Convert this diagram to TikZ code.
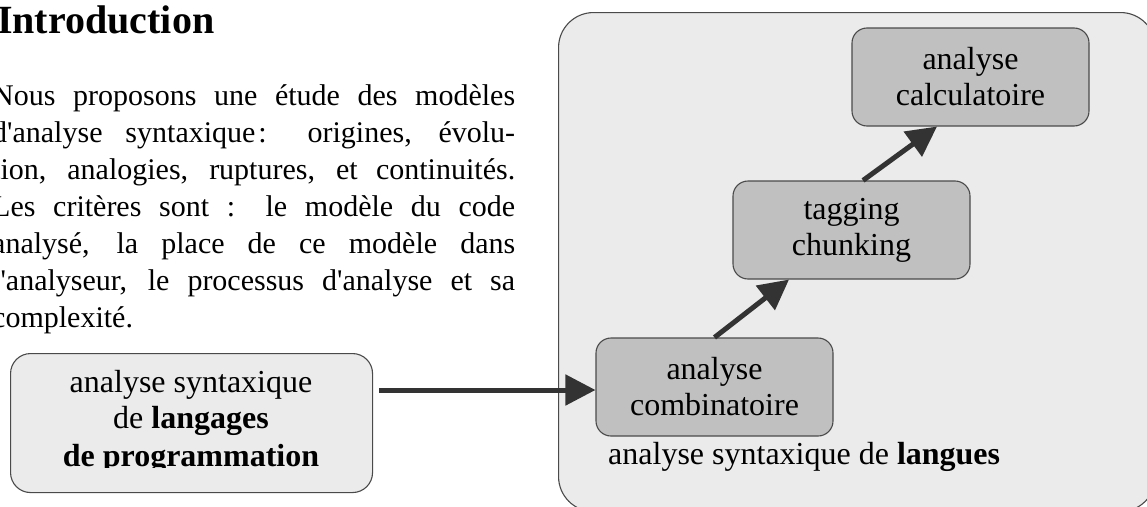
\documentclass[tikz,border=0pt]{standalone}
\usepackage{fontspec}
\setmainfont{Liberation Serif}[Ligatures=TeXOff]
\usetikzlibrary{arrows.meta,calc}
\definecolor{boxlight}{HTML}{EBEBEB}
\definecolor{boxdark}{HTML}{C0C0C0}
\definecolor{edgegray}{HTML}{4A4A4A}
\definecolor{arrowgray}{HTML}{333333}
\begin{document}
\begin{tikzpicture}[x=1pt,y=-1pt,
  bigbox/.style={draw=edgegray, fill=boxlight, rounded corners=35pt, line width=1.1pt, inner sep=0},
  progbox/.style={draw=edgegray, fill=boxlight, rounded corners=20pt, line width=1.1pt, inner sep=0},
  stage/.style={draw=edgegray, fill=boxdark, rounded corners=15pt, line width=1.1pt,
    minimum width=237pt, minimum height=98pt, inner sep=0, align=center,
    font=\fontsize{32}{36}\selectfont},
  boxtext/.style={anchor=base, inner sep=0, font=\fontsize{32}{36}\selectfont},
  para/.style={anchor=base west, inner sep=0, font=\fontsize{30}{37}\selectfont},
  flow/.style={-{Triangle[length=30pt,width=30pt]}, line width=5pt, draw=arrowgray}]
\useasboundingbox (0,0) rectangle (1147,506);
\clip (0,0) rectangle (1147,506);

% title and paragraph
\node[anchor=base west, inner sep=0, font=\fontsize{40}{48}\selectfont\bfseries] (title) at (-3,33) {Introduction};
\node[para] (p1) at (-8,105) {\makebox[523pt][s]{Nous proposons une étude des modèles}};
\node[para] (p2) at (-8,142) {\makebox[523pt][s]{d'analyse syntaxique\kern3pt: origines, évolu-}};
\node[para] (p3) at (-8,179) {\makebox[523pt][s]{tion, analogies, ruptures, et continuités.}};
\node[para] (p4) at (-8,216) {\makebox[523pt][s]{Les critères sont : le modèle du code}};
\node[para] (p5) at (-8,253) {\makebox[523pt][s]{analysé, la place de ce modèle dans}};
\node[para] (p6) at (-8,290) {\makebox[523pt][s]{l'analyseur, le processus d'analyse et sa}};
\node[para] (p7) at (-8,327) {complexité.};

% left box
\node[progbox, minimum width=362pt, minimum height=139pt, anchor=north west] (prog) at (10,353) {};
\node[boxtext] (prog1) at (191,392) {analyse syntaxique};
\node[boxtext] (prog2) at (191,428) {de \textbf{langages}};
\begin{scope}
  \clip (0,0) rectangle (1147,467);
  \node[boxtext] (prog3) at (191,466) {\textbf{de programmation}};
\end{scope}

% big box
\node[bigbox, minimum width=597pt, minimum height=499pt, anchor=north west] (langues) at (558,12) {};
\node[stage] (comb) at (714.5,387) {analyse\\combinatoire};
\node[stage] (tag) at (851.5,230) {tagging\\chunking};
\node[stage] (calc) at (970.5,77) {analyse\\calculatoire};
\node[anchor=base west, inner sep=0, font=\fontsize{32}{36}\selectfont] (lbl) at (608,464) {analyse syntaxique de \textbf{langues}};

% arrows
\draw[flow] ($(prog.east |- comb.west)+(6,3)$) -- ($(comb.west)+(0,3)$);
\draw[flow] (comb.north) -- ($(tag.south)+(-62.5,0)$);
\draw[flow] ($(tag.north)+(11.5,0)$) -- ($(calc.south)+(-33.5,0)$);
\end{tikzpicture}
\end{document}
